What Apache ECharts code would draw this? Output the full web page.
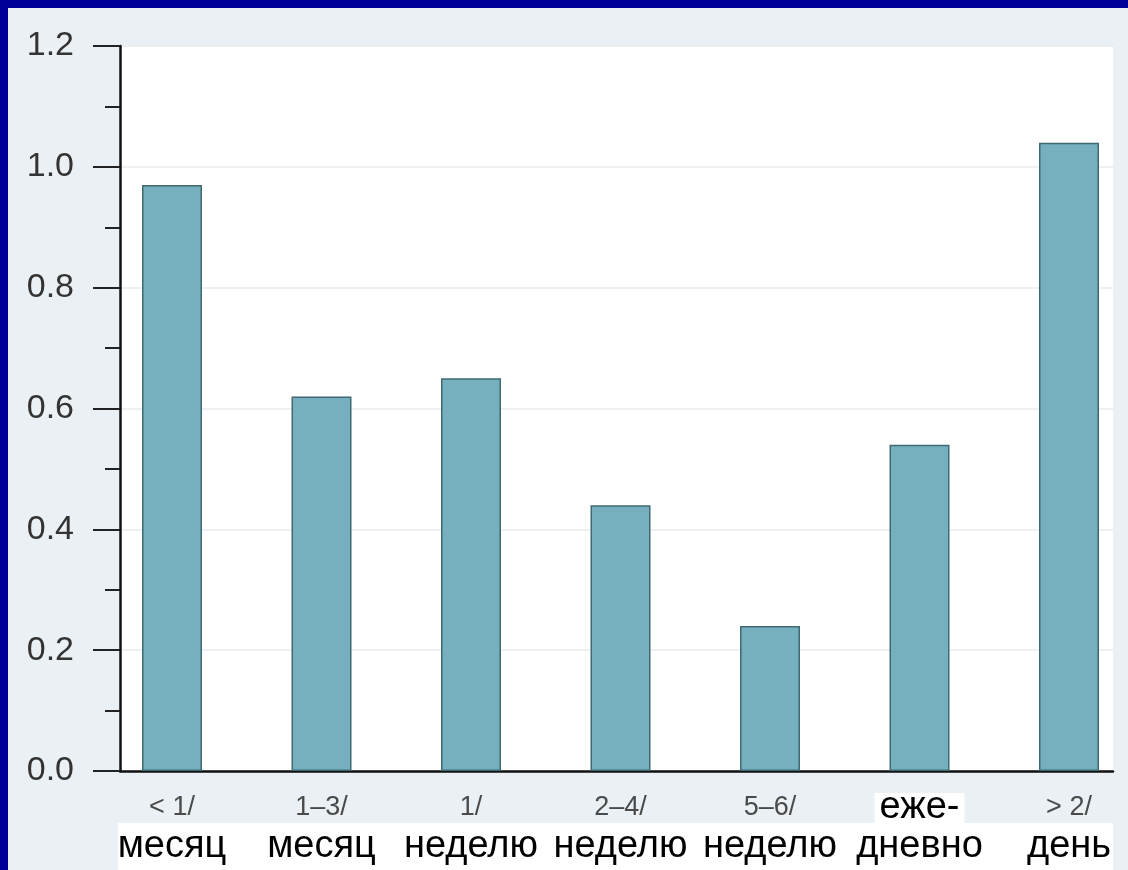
<!DOCTYPE html>
<html>
<head>
<meta charset="utf-8">
<script src="https://cdn.jsdelivr.net/npm/echarts@6/dist/echarts.min.js"></script>
<style>
  html, body { margin: 0; padding: 0; background: #000099; }
  #chart { position: absolute; left: 8px; top: 8px; width: 1120px; height: 862px; }
</style>
</head>
<body>
<div id="chart"></div>
<script>
// Frequency categories: upper (small grey) and lower (large black) label lines
const freqUpper = ['< 1/', '1–3/', '1/', '2–4/', '5–6/', 'еже-', '> 2/'];
const freqLower = ['месяц', 'месяц', 'неделю', 'неделю', 'неделю', 'дневно', 'день'];
// Bar heights
const values = [0.97, 0.62, 0.65, 0.44, 0.24, 0.54, 1.04];
// Value-axis ticks
const yMin = 0, yMax = 1.2, yStep = 0.2;
// Index of the category whose upper line is set in the large black style
const boxedUpper = 5;

const chart = echarts.init(document.getElementById('chart'));
const FONT = '"Liberation Sans", Arial, Helvetica, sans-serif';

chart.setOption({
  backgroundColor: '#eaf0f3',
  animation: false,
  grid: [
    // frame: value axis, axis lines, grid lines
    { left: 112, right: 15, top: 38, bottom: 99, show: true, backgroundColor: '#ffffff', borderWidth: 0 },
    // bars: category centres
    { left: 164, right: 59, top: 38, bottom: 99 }
  ],
  graphic: [{
    type: 'rect', left: 110, top: 815, z: -10,
    shape: { width: 995, height: 47 },
    style: { fill: '#ffffff' }
  }],
  xAxis: [
    {
      gridIndex: 0, type: 'value', min: 0, max: 1,
      axisLine: { show: true, lineStyle: { color: '#111', width: 2.5 } },
      axisTick: { show: false }, axisLabel: { show: false }, splitLine: { show: false }
    },
    {
      gridIndex: 1, type: 'category', data: freqLower, boundaryGap: false, z: 5,
      axisLine: { show: false }, axisTick: { show: false }, splitLine: { show: false },
      axisLabel: {
        interval: 0, margin: 22,
        formatter: function (v, i) {
          const top = i === boxedUpper ? '{w|' + freqUpper[i] + '}' : '{g|' + freqUpper[i] + '}';
          return top + '\n{b|' + freqLower[i] + '}';
        },
        rich: {
          g: { fontFamily: FONT, fontSize: 27, color: '#4a4a4a', lineHeight: 30 },
          w: { fontFamily: FONT, fontSize: 38, color: '#000', lineHeight: 30, height: 30,
               backgroundColor: '#ffffff', padding: [0, 5, 0, 5] },
          b: { fontFamily: FONT, fontSize: 38, color: '#000', lineHeight: 47 }
        }
      }
    }
  ],
  yAxis: [
    {
      gridIndex: 0, type: 'value', min: yMin, max: yMax, interval: yStep,
      axisLine: { show: true, lineStyle: { color: '#111', width: 2.5 } },
      axisTick: { show: true, inside: false, length: 27, lineStyle: { color: '#222', width: 2 } },
      minorTick: { show: true, splitNumber: 2, length: 15, lineStyle: { color: '#222', width: 2 } },
      axisLabel: {
        margin: 46, fontFamily: FONT, fontSize: 34, color: '#333',
        formatter: v => v.toFixed(1)
      },
      splitLine: { show: true, lineStyle: { color: '#e9edef', width: 1.5 } }
    },
    {
      gridIndex: 1, type: 'value', min: yMin, max: yMax, interval: yStep, show: false
    }
  ],
  series: [{
    type: 'bar', xAxisIndex: 1, yAxisIndex: 1,
    data: values, barWidth: 60,
    itemStyle: { color: '#76afbe', borderColor: '#3f6a73', borderWidth: 1.5 }
  }]
});
</script>
</body>
</html>
